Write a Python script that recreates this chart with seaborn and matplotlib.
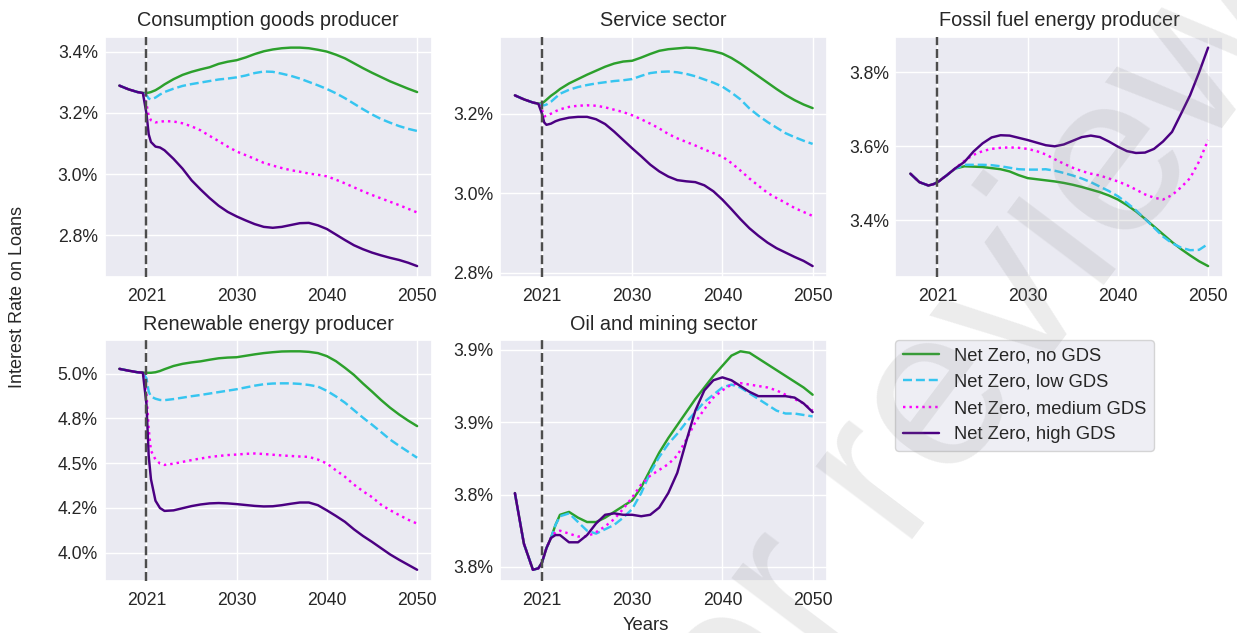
import matplotlib
matplotlib.use("Agg")
import matplotlib.pyplot as plt
from matplotlib.ticker import FuncFormatter, MultipleLocator
import seaborn as sns

# Time axis: model periods, 0 = policy start (labelled 2021)
periods = [-3, -2, -1, -0.4, 0, 0.25, 0.5, 1, 1.5, 2] + list(range(3, 31))
tick_positions = [0, 10, 20, 30]
tick_labels = ["2021", "2030", "2040", "2050"]

scenarios = ["Net Zero, no GDS", "Net Zero, low GDS",
             "Net Zero, medium GDS", "Net Zero, high GDS"]

# Interest rate on loans (%) by sector. History covers periods -3 .. -0.4,
# scenario paths cover periods 0 .. 30.
cons_hist = [3.289, 3.277, 3.268, 3.265]
cons_no = [3.265, 3.266, 3.268, 3.274, 3.283, 3.293, 3.31, 3.324, 3.334, 3.342, 3.349, 3.36, 3.367, 3.372,
           3.381, 3.392, 3.401, 3.407, 3.411, 3.413, 3.413, 3.411, 3.406, 3.40, 3.39, 3.378, 3.362, 3.346,
           3.331, 3.317, 3.303, 3.291, 3.279, 3.268]
cons_low = [3.258, 3.247, 3.244, 3.25, 3.26, 3.268, 3.279, 3.288, 3.294, 3.299, 3.304, 3.309, 3.312, 3.316,
            3.322, 3.33, 3.335, 3.334, 3.328, 3.321, 3.312, 3.301, 3.29, 3.278, 3.264, 3.248, 3.23, 3.212,
            3.195, 3.18, 3.168, 3.157, 3.148, 3.141]
cons_med = [3.23, 3.19, 3.176, 3.169, 3.171, 3.173, 3.172, 3.166, 3.156, 3.143, 3.125, 3.108, 3.09, 3.074,
            3.062, 3.05, 3.037, 3.028, 3.02, 3.013, 3.008, 3.002, 2.998, 2.993, 2.982, 2.97, 2.957, 2.944,
            2.932, 2.921, 2.91, 2.899, 2.887, 2.875]
cons_high = [3.198, 3.13, 3.105, 3.09, 3.087, 3.078, 3.05, 3.018, 2.98, 2.95, 2.922, 2.897, 2.877, 2.862,
             2.849, 2.837, 2.828, 2.825, 2.828, 2.834, 2.84, 2.841, 2.833, 2.821, 2.803, 2.785, 2.768, 2.755,
             2.744, 2.735, 2.727, 2.72, 2.711, 2.70]

serv_hist = [3.246, 3.236, 3.228, 3.225]
serv_no = [3.226, 3.23, 3.235, 3.245, 3.253, 3.262, 3.276, 3.287, 3.298, 3.308, 3.318, 3.326, 3.331, 3.333,
           3.341, 3.35, 3.358, 3.362, 3.364, 3.366, 3.365, 3.361, 3.357, 3.351, 3.34, 3.326, 3.31, 3.294,
           3.278, 3.262, 3.247, 3.234, 3.223, 3.214]
serv_low = [3.222, 3.221, 3.223, 3.23, 3.24, 3.25, 3.26, 3.267, 3.272, 3.276, 3.279, 3.282, 3.284, 3.287,
            3.295, 3.302, 3.305, 3.306, 3.304, 3.3, 3.294, 3.286, 3.278, 3.268, 3.253, 3.236, 3.213, 3.195,
            3.179, 3.165, 3.151, 3.141, 3.132, 3.124]
serv_med = [3.21, 3.193, 3.195, 3.2, 3.206, 3.211, 3.217, 3.22, 3.221, 3.22, 3.216, 3.21, 3.204, 3.196,
            3.186, 3.175, 3.163, 3.149, 3.138, 3.129, 3.12, 3.11, 3.101, 3.092, 3.076, 3.057, 3.037, 3.019,
            3.001, 2.988, 2.976, 2.963, 2.953, 2.943]
serv_high = [3.2, 3.178, 3.172, 3.175, 3.181, 3.185, 3.19, 3.192, 3.192, 3.186, 3.174, 3.155, 3.134, 3.113,
             3.093, 3.072, 3.055, 3.042, 3.033, 3.03, 3.028, 3.02, 3.005, 2.984, 2.96, 2.935, 2.912, 2.893,
             2.876, 2.862, 2.851, 2.84, 2.83, 2.817]

foss_hist = [3.526, 3.503, 3.494, 3.498]
foss_no = [3.503, 3.507, 3.512, 3.521, 3.531, 3.54, 3.546, 3.545, 3.544, 3.541, 3.538, 3.532, 3.522, 3.514,
           3.511, 3.508, 3.505, 3.501, 3.496, 3.49, 3.483, 3.476, 3.467, 3.456, 3.441, 3.424, 3.404, 3.383,
           3.362, 3.341, 3.322, 3.305, 3.289, 3.276]
foss_low = [3.503, 3.507, 3.512, 3.521, 3.531, 3.54, 3.55, 3.55, 3.55, 3.549, 3.546, 3.542, 3.538, 3.537,
            3.537, 3.538, 3.534, 3.528, 3.521, 3.513, 3.503, 3.491, 3.479, 3.465, 3.447, 3.427, 3.404, 3.38,
            3.356, 3.338, 3.326, 3.319, 3.32, 3.336]
foss_med = [3.503, 3.507, 3.512, 3.521, 3.531, 3.541, 3.561, 3.577, 3.587, 3.593, 3.596, 3.597, 3.596, 3.593,
            3.587, 3.578, 3.565, 3.553, 3.542, 3.533, 3.526, 3.521, 3.513, 3.505, 3.495, 3.483, 3.47, 3.461,
            3.456, 3.468, 3.489, 3.514, 3.559, 3.617]
foss_high = [3.503, 3.507, 3.512, 3.521, 3.531, 3.541, 3.558, 3.586, 3.608, 3.624, 3.63, 3.629, 3.623, 3.617,
             3.61, 3.603, 3.6, 3.605, 3.615, 3.625, 3.629, 3.625, 3.613, 3.599, 3.587, 3.582, 3.583, 3.593,
             3.613, 3.639, 3.688, 3.738, 3.80, 3.867]

renew_hist = [5.027, 5.017, 5.008, 5.006]
renew_no = [5.005, 5.005, 5.005, 5.008, 5.015, 5.025, 5.043, 5.055, 5.063, 5.069, 5.078, 5.086, 5.09, 5.092,
            5.1, 5.108, 5.115, 5.12, 5.124, 5.125, 5.125, 5.122, 5.115, 5.098, 5.07, 5.033, 4.993, 4.945,
            4.9, 4.853, 4.81, 4.772, 4.738, 4.707]
renew_low = [4.975, 4.9, 4.872, 4.86, 4.853, 4.852, 4.858, 4.866, 4.874, 4.881, 4.889, 4.897, 4.905, 4.913,
             4.923, 4.933, 4.941, 4.945, 4.946, 4.946, 4.943, 4.937, 4.928, 4.904, 4.873, 4.838, 4.796, 4.754,
             4.715, 4.674, 4.632, 4.597, 4.564, 4.53]
renew_med = [4.89, 4.69, 4.57, 4.52, 4.498, 4.49, 4.497, 4.507, 4.517, 4.526, 4.534, 4.54, 4.545, 4.548,
             4.552, 4.554, 4.551, 4.547, 4.543, 4.54, 4.537, 4.535, 4.52, 4.498, 4.46, 4.424, 4.38, 4.343,
             4.31, 4.268, 4.237, 4.21, 4.184, 4.162]
renew_high = [4.83, 4.54, 4.41, 4.29, 4.249, 4.233, 4.236, 4.248, 4.26, 4.269, 4.275, 4.277, 4.275, 4.271,
              4.266, 4.261, 4.258, 4.259, 4.265, 4.273, 4.28, 4.28, 4.265, 4.236, 4.205, 4.172, 4.13, 4.093,
              4.06, 4.025, 3.99, 3.96, 3.932, 3.904]

oil_hist = [3.801, 3.766, 3.748, 3.749]
oil_no = [3.753, 3.758, 3.763, 3.77, 3.779, 3.786, 3.788, 3.784, 3.781, 3.781, 3.784, 3.788, 3.792, 3.796,
          3.805, 3.817, 3.829, 3.839, 3.848, 3.857, 3.866, 3.874, 3.882, 3.889, 3.896, 3.899, 3.898, 3.894,
          3.89, 3.886, 3.882, 3.878, 3.874, 3.869]
oil_low = [3.753, 3.758, 3.763, 3.77, 3.779, 3.785, 3.787, 3.781, 3.775, 3.773, 3.776, 3.779, 3.784, 3.79,
           3.801, 3.815, 3.826, 3.835, 3.842, 3.85, 3.857, 3.864, 3.869, 3.874, 3.876, 3.874, 3.87, 3.866,
           3.862, 3.858, 3.856, 3.856, 3.855, 3.854]
oil_med = [3.753, 3.758, 3.763, 3.77, 3.774, 3.775, 3.773, 3.771, 3.771, 3.774, 3.778, 3.783, 3.79, 3.798,
           3.807, 3.813, 3.817, 3.821, 3.827, 3.838, 3.85, 3.859, 3.867, 3.872, 3.876, 3.877, 3.876, 3.875,
           3.874, 3.872, 3.869, 3.866, 3.863, 3.858]
oil_high = [3.753, 3.758, 3.763, 3.77, 3.772, 3.772, 3.767, 3.767, 3.772, 3.78, 3.786, 3.787, 3.786, 3.786,
            3.785, 3.786, 3.791, 3.801, 3.815, 3.837, 3.858, 3.872, 3.879, 3.881, 3.879, 3.875, 3.871, 3.868,
            3.868, 3.868, 3.868, 3.867, 3.863, 3.857]

sectors = [
    ("Consumption goods producer", cons_hist, [cons_no, cons_low, cons_med, cons_high], 0.2),
    ("Service sector", serv_hist, [serv_no, serv_low, serv_med, serv_high], 0.2),
    ("Fossil fuel energy producer", foss_hist, [foss_no, foss_low, foss_med, foss_high], 0.2),
    ("Renewable energy producer", renew_hist, [renew_no, renew_low, renew_med, renew_high], 0.25),
    ("Oil and mining sector", oil_hist, [oil_no, oil_low, oil_med, oil_high], 0.05),
]

colors = ["#2ca02c", "#36c5f0", "#ff00ff", "#4b0082"]
linestyles = ["-", "--", ":", "-"]

sns.set_theme(style="darkgrid")
plt.rcParams["font.family"] = ["Liberation Sans", "DejaVu Sans"]
plt.rcParams["xtick.major.size"] = 0
plt.rcParams["ytick.major.size"] = 0
plt.rcParams["xtick.major.pad"] = 8
plt.rcParams["ytick.major.pad"] = 4.8

fig, axes = plt.subplots(2, 3, figsize=(12.37, 6.33), dpi=100)
fig.subplots_adjust(left=104.5 / 1237, right=1223 / 1237, top=1 - 36.7 / 633,
                    bottom=1 - 580.7 / 633, wspace=68 / 327.5, hspace=63.3 / 240)
flat = axes.ravel()

pct = FuncFormatter(lambda v, _: f"{v:.1f}%")

for ax, (title, hist, paths, ystep) in zip(flat, sectors):
    for values, color, ls, name in zip(paths, colors, linestyles, scenarios):
        sns.lineplot(x=periods, y=hist + values, ax=ax, color=color, linestyle=ls,
                     linewidth=1.75, label=name, legend=False)
    ax.axvline(0, color="0.3", linestyle="--", linewidth=1.75, zorder=3)
    ax.set_title(title, fontsize=14.3, pad=7.7)
    ax.set_xticks(tick_positions)
    ax.set_xticklabels(tick_labels)
    ax.yaxis.set_major_locator(MultipleLocator(ystep))
    ax.yaxis.set_major_formatter(pct)
    ax.tick_params(labelsize=12.7)
    ax.set_xlabel("")
    ax.set_ylabel("")

legend_ax = flat[5]
legend_ax.axis("off")
handles, labels = flat[0].get_legend_handles_labels()
legend_ax.legend(handles, labels, loc="upper left", bbox_to_anchor=(0, 1),
                 borderaxespad=0, fontsize=13.2, frameon=True)

fig.text(17.5 / 1237, 1 - 296.5 / 633, "Interest Rate on Loans", rotation=90,
         ha="center", va="center", fontsize=13, color=".15")
fig.text(646 / 1237, 1 - 630 / 633, "Years", ha="center", va="baseline",
         fontsize=13.3, color=".15")

fig.text(1456 / 1237, 1 + 181 / 633, "Preprint not peer reviewed", rotation=53,
         rotation_mode="anchor", ha="right", va="baseline", fontsize=165,
         color="0.5", alpha=0.15, zorder=100)

fig.savefig("out.png", dpi=100)
